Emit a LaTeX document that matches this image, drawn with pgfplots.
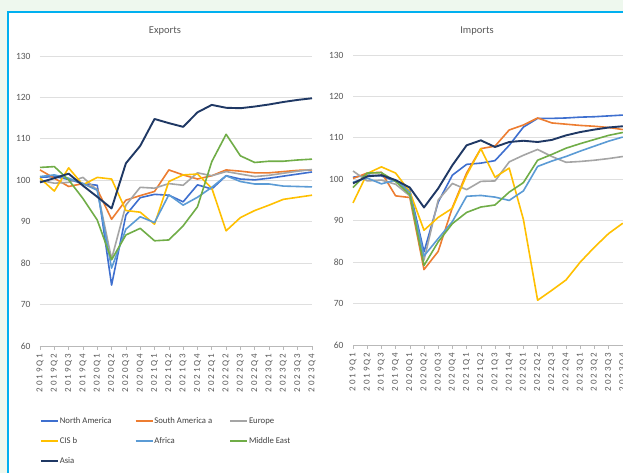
\documentclass[border=0pt]{standalone}
\usepackage{fontspec}
\setmainfont{Carlito}
\newfontfamily\tickfont[LetterSpace=22]{Carlito}
\usepackage{pgfplots}
\usepackage{pgfplotstable}
\pgfplotsset{compat=1.18}

\definecolor{cNA}{HTML}{3E6FCF}
\definecolor{cSA}{HTML}{ED7D31}
\definecolor{cEU}{HTML}{A5A5A5}
\definecolor{cCIS}{HTML}{FFC000}
\definecolor{cAF}{HTML}{5B9BD5}
\definecolor{cME}{HTML}{70AD47}
\definecolor{cAS}{HTML}{1F3864}
\definecolor{txt}{HTML}{595959}
\definecolor{ltxt}{HTML}{404040}
\definecolor{frame}{HTML}{00B0F0}
\definecolor{bgg}{HTML}{EEF8EE}

\pgfplotstableread{
i NA SA EU CIS AF ME AS
0 100.7 102.5 100.0 100.5 100.9 103.1 99.5
1 100.9 100.5 99.3 97.4 101.3 103.3 100.5
2 100.2 98.5 99.5 103.0 100.5 100.1 101.6
3 99.2 99.2 100.7 98.9 99.2 95.6 98.7
4 98.8 97.8 97.6 100.7 97.6 90.4 96.0
5 74.7 90.6 81.0 100.3 78.8 80.8 93.2
6 91.6 95.2 94.0 92.7 88.2 86.8 104.1
7 95.8 96.3 98.3 92.3 91.2 88.4 108.3
8 96.6 97.3 98.1 89.4 89.8 85.4 114.8
9 96.4 102.5 99.2 99.7 96.5 85.6 113.8
10 94.8 101.3 98.8 101.3 94.0 89.0 112.9
11 98.9 100.3 101.8 101.5 95.9 93.6 116.4
12 97.9 101.1 101.1 98.1 98.3 104.5 118.2
13 101.1 102.5 102.1 87.8 101.1 111.1 117.5
14 100.3 102.2 101.5 91.0 99.7 105.9 117.4
15 100.1 101.8 100.9 92.7 99.1 104.3 117.8
16 100.5 101.8 101.2 94.0 99.1 104.6 118.3
17 101.0 102.1 101.7 95.4 98.6 104.6 118.9
18 101.5 102.4 102.2 95.9 98.5 104.9 119.4
19 102.0 102.5 102.6 96.4 98.4 105.1 119.8
}\exports

\pgfplotstableread{
i NA SA EU CIS AF ME AS
0 100.5 100.2 102.0 94.3 99.3 98.0 99.0
1 101.0 101.5 99.6 101.4 100.3 101.5 100.7
2 100.8 101.7 99.8 103.0 98.9 101.6 101.0
3 99.5 96.0 98.8 101.5 99.8 99.5 99.8
4 97.3 95.6 96.0 97.0 96.8 96.3 98.0
5 82.5 78.2 80.5 87.7 81.5 79.2 93.2
6 94.5 82.6 95.0 90.8 85.7 84.9 97.8
7 101.0 93.2 99.0 93.0 89.8 89.3 103.4
8 103.6 101.5 97.5 101.0 95.9 92.0 108.2
9 103.9 107.4 99.5 107.4 96.1 93.3 109.4
10 104.5 108.0 99.6 100.5 95.7 93.8 107.8
11 108.2 111.9 104.2 102.7 94.9 96.9 109.0
12 112.6 113.1 105.8 90.3 97.2 99.2 109.3
13 114.7 114.8 107.2 70.8 103.1 104.6 109.0
14 114.7 113.6 105.5 73.2 104.4 106.0 109.5
15 114.8 113.3 104.1 75.7 105.5 107.5 110.6
16 115.0 113.0 104.3 80.0 106.8 108.6 111.4
17 115.1 112.8 104.6 83.6 108.0 109.6 112.0
18 115.3 112.5 105.0 86.9 109.2 110.6 112.5
19 115.5 112.0 105.5 89.4 110.2 111.3 112.8
}\imports

\pgfplotsset{
  panel/.style={
    scale only axis, height=290pt,
    xmin=0, xmax=19, ymin=60, ymax=130,
    ytick={60,70,...,130},
    yticklabels={60,70,80,90,100,110,120,130},
    xtick={0,...,19},
    xticklabels={2019Q1,2019Q2,2019Q3,2019Q4,2020Q1,2020Q2,2020Q3,2020Q4,2021Q1,2021Q2,2021Q3,2021Q4,2022Q1,2022Q2,2022Q3,2022Q4,2023Q1,2023Q2,2023Q3,2023Q4},
    separate axis lines,
    axis x line*=bottom, axis y line*=left,
    x axis line style={draw=gray!55, line width=0.8pt, -},
    y axis line style={draw=none},
    ytick style={draw=none},
    xtick style={draw=gray!55, line width=0.6pt},
    tick align=outside, major tick length=4pt,
    ymajorgrids, grid style={draw=gray!25, line width=0.9pt},
    yticklabel style={font=\fontsize{9.5}{11}\selectfont, text=txt, anchor=east, xshift=-2pt},
    xticklabel style={font=\tickfont\fontsize{9}{10}\selectfont, text=txt, rotate=90, anchor=east},
    every axis plot/.append style={line width=1.6pt, mark=none, line join=round},
    clip=false,
  }
}

\begin{document}
\begin{tikzpicture}[x=1pt,y=1pt]
\useasboundingbox (0,0) rectangle (623,473);
\clip (0,0) rectangle (623,473);
\fill[white] (0,0) rectangle (623,473);
\fill[bgg] (0,461) rectangle (623,473);
\fill[bgg] (0,0) rectangle (7,461);
\draw[frame, line width=2pt] (8,0) -- (8,461) -- (623,461);

\node[font=\fontsize{10.5}{12}\selectfont, text=txt] at (165,442) {Exports};
\node[font=\fontsize{10.5}{12}\selectfont, text=txt] at (477,442) {Imports};

\begin{axis}[panel, width=272pt, at={(40pt,127pt)}, anchor=south west,
  legend columns=3,
  legend cell align=left,
  legend image code/.code={\draw[#1, line width=1.6pt] (0pt,0pt) -- (17pt,0pt);},
  legend style={at={(0,0)}, anchor=north west, yshift=-70pt, draw=none, fill=none,
    inner sep=0pt, row sep=10pt, font=\fontsize{8.7}{9}\selectfont,
    text=ltxt, nodes={inner sep=1pt, text height=6pt, text depth=2pt}},
]
\addplot[cNA] table[x=i,y=NA] {\exports};
\addlegendentry{\makebox[74pt][l]{North America}}
\addplot[cSA] table[x=i,y=SA] {\exports};
\addlegendentry{\makebox[74pt][l]{South America a}}
\addplot[cEU] table[x=i,y=EU] {\exports};
\addlegendentry{\makebox[74pt][l]{Europe}}
\addplot[cCIS] table[x=i,y=CIS] {\exports};
\addlegendentry{\makebox[74pt][l]{CIS b}}
\addplot[cAF] table[x=i,y=AF] {\exports};
\addlegendentry{\makebox[74pt][l]{Africa}}
\addplot[cME] table[x=i,y=ME] {\exports};
\addlegendentry{\makebox[74pt][l]{Middle East}}
\addplot[cAS, line width=1.9pt] table[x=i,y=AS] {\exports};
\addlegendentry{\makebox[74pt][l]{Asia}}
\end{axis}

\begin{axis}[panel, width=269.8pt, at={(353pt,128pt)}, anchor=south west]
\addplot[cNA] table[x=i,y=NA] {\imports};
\addplot[cSA] table[x=i,y=SA] {\imports};
\addplot[cEU] table[x=i,y=EU] {\imports};
\addplot[cCIS] table[x=i,y=CIS] {\imports};
\addplot[cAF] table[x=i,y=AF] {\imports};
\addplot[cME] table[x=i,y=ME] {\imports};
\addplot[cAS, line width=1.9pt] table[x=i,y=AS] {\imports};
\end{axis}
\end{tikzpicture}
\end{document}
